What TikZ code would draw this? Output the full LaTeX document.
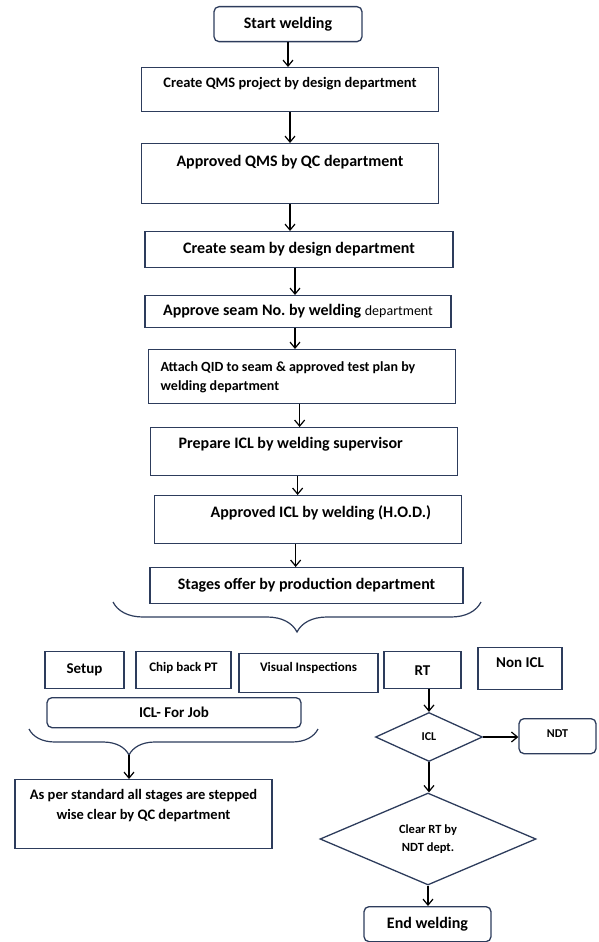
\documentclass[tikz,border=0pt]{standalone}
\usepackage{fontspec}
\setmainfont{Carlito}
\usetikzlibrary{arrows.meta,decorations.pathreplacing,shapes.geometric}
\definecolor{boxline}{RGB}{45,60,92}
\newcommand{\fsz}[1]{\fontsize{#1}{\fpeval{1.4*#1}}\selectfont\bfseries}
\frenchspacing

\begin{document}
\begin{tikzpicture}[x=1pt,y=-1pt]
    \tikzset{box/.style={draw=boxline, line width=1.3pt, inner sep=0pt, align=center},
        rbox/.style={box, rounded corners=5pt},
        dbox/.style={draw=boxline, line width=1.3pt, diamond, inner sep=0pt, align=center, aspect=2.2},
        flow/.style={-{Straight Barb[length=6pt,width=10pt]}, line width=1.2pt},
        brc/.style={decorate, decoration={brace, mirror, amplitude=#1}, draw=boxline, line width=1.2pt}}
    \useasboundingbox (0,0) rectangle (599,942);

    % main column
    \node[rbox, anchor=north, minimum width=148pt, minimum height=35pt, font=\fsz{16}] (start) at (288,6) {Start welding};
    \node[box, anchor=north, minimum width=297pt, text height=19.5pt, text depth=24.5pt, font=\fsz{14.5}] (qms) at (290,67) {Create QMS project by design department};
    \node[box, anchor=north, minimum width=297pt, text height=23pt, text depth=37pt, font=\fsz{16}] (appqms) at (290,143) {Approved QMS by QC department};
    \node[box, anchor=north, minimum width=308pt, minimum height=36pt, font=\fsz{16}] (seam) at (299,231) {Create seam by design department};
    \node[box, anchor=north, minimum width=306pt, minimum height=32pt, font=\fsz{16}] (appseam) at (298,295) {Approve seam No. by welding {\fontsize{14}{14}\selectfont\mdseries department}};
    \node[box, anchor=north west, text width=283pt, inner xsep=12pt, align=flush left, text height=21.5pt, text depth=32.5pt, font=\fsz{14}] (qid) at (148,349) {Attach QID to seam \& approved test plan by\\welding department};
    \node[box, anchor=north west, text width=307pt, align=flush left, text height=21pt, text depth=27pt, font=\fsz{16}] (prep) at (150,427) {\hspace*{28pt}Prepare ICL by welding supervisor};
    \node[box, anchor=north west, text width=307pt, align=flush left, text height=22pt, text depth=26pt, font=\fsz{16}] (appicl) at (154,495) {\hspace*{56pt}Approved ICL by welding (H.O.D.)};
    \node[box, anchor=north, minimum width=313pt, minimum height=36pt, font=\fsz{16}] (stages) at (306.5,567) {Stages offer by production department};

    \foreach \a/\b/\s in {start/qms/0, qms/appqms/0, appqms/seam/0, seam/appseam/-4, appseam/qid/-3, qid/prep/-2.5, prep/appicl/-6.5, appicl/stages/-12.5}
        \draw[flow] ([xshift=\s pt]\a.south) -- ([xshift=\s pt]\a.south |- \b.north);

    \coordinate (b1l) at (113,602);
    \coordinate (b1r) at (481,602);
    \draw[brc=30pt] (b1l) -- (b1r);

    % stages row
    \node[box, anchor=north, minimum width=79pt, minimum height=37pt, font=\fsz{15}] (setup) at (84.5,651) {Setup};
    \node[box, anchor=north, minimum width=95pt, text height=20pt, text depth=17pt, font=\fsz{13}] (chip) at (183.5,651) {Chip back PT};
    \node[box, anchor=north, minimum width=139pt, text height=18pt, text depth=21pt, font=\fsz{13}] (visual) at (308.5,653) {Visual Inspections};
    \node[box, anchor=north, minimum width=77pt, minimum height=37pt, font=\fsz{15}] (rt) at (422.5,651) {RT};
    \node[box, anchor=north, minimum width=84pt, text height=20pt, text depth=22pt, font=\fsz{15}] (nonicl) at (520,647) {Non ICL};
    \node[rbox, anchor=north, minimum width=254pt, minimum height=30pt, font=\fsz{15}] (icljob) at (174,697) {ICL- For Job};

    \coordinate (b2l) at (29,729);
    \coordinate (b2r) at (318,729);
    \coordinate (b2tip) at (129,755);
    \draw[brc=26pt, decoration={aspect=0.346}] (b2l) -- (b2r);
    \node[box, anchor=north, text width=257pt, align=flush center, text height=20pt, text depth=49pt, font=\fsz{14.5}] (asper) at (143.5,779) {As per standard all stages are stepped\\wise clear by QC department};
    \draw[flow] (b2tip) -- (b2tip |- asper.north);

    % RT branch
    \node[dbox, minimum width=107pt, minimum height=49pt, font=\fsz{12}] (icl) at (429,737) {ICL};
    \node[rbox, anchor=north, minimum width=77pt, text height=19pt, text depth=16pt, font=\fsz{12}] (ndt) at (557.5,718) {NDT};
    \node[dbox, minimum width=216pt, minimum height=92pt, font=\fsz{12.5}] (clear) at (428,839) {Clear RT by\\NDT dept.};
    \node[rbox, anchor=north, minimum width=127pt, minimum height=35pt, font=\fsz{16}] (endw) at (427.5,906) {End welding};

    \draw[flow] (icl.north |- rt.south) -- (icl.north);
    \draw[flow] (icl.east) -- (icl.east -| ndt.west);
    \draw[flow] (icl.south) -- (icl.south |- clear.north);
    \draw[flow] (clear.south) -- (clear.south |- endw.north);
\end{tikzpicture}
\end{document}
